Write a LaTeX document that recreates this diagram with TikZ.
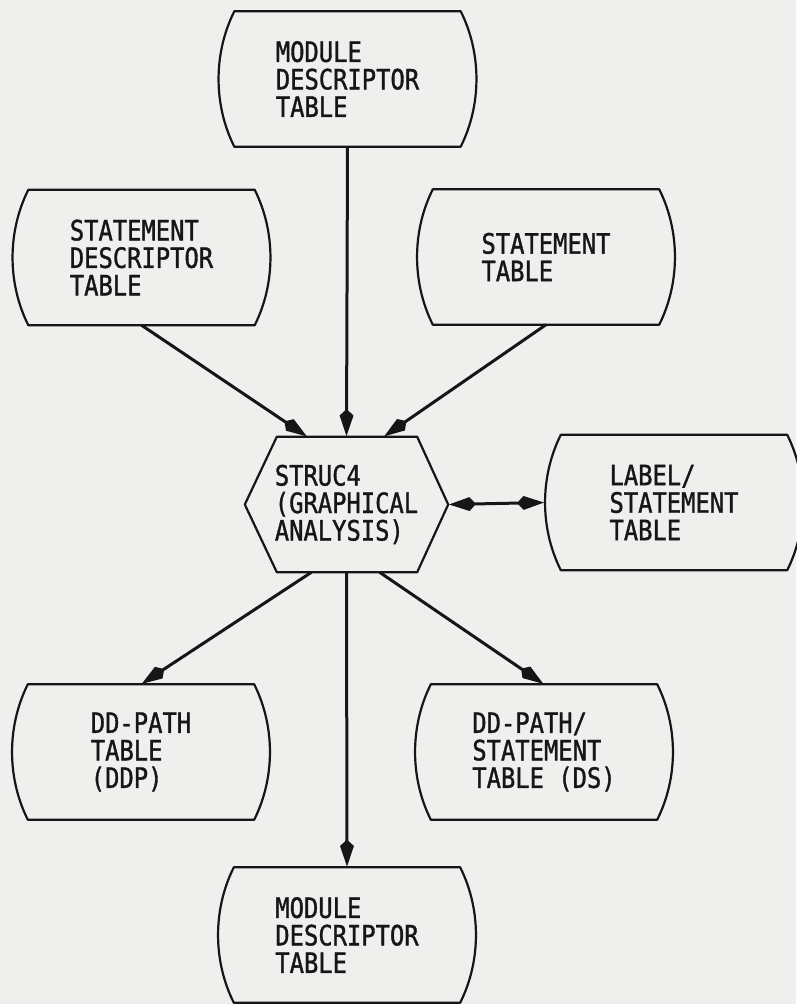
\documentclass[tikz,border=0pt]{standalone}
\usepackage{fontspec}
\usepackage{tikz}
\usepackage{xcolor}
\usetikzlibrary{arrows.meta}
\newfontfamily\letterfont[FakeStretch=0.85,FakeBold=1.2]{DejaVu Sans Mono}
\definecolor{paper}{RGB}{239,239,237}
\definecolor{ink}{RGB}{22,22,22}
\tikzset{
    table-box/.style = {rectangle, minimum width=258pt, minimum height=135pt, inner sep=0pt, align=left,
                        font=\letterfont\fontsize{28pt}{27.5pt}\selectfont, text=ink},
    process-box/.style = {table-box, minimum width=203pt},
    outline/.style = {draw=ink, line width=2.2pt, line join=round},
    flow/.style = {draw=ink, line width=3pt, -{Stealth[length=21pt, width=12pt, inset=-7pt]}},
    two-way/.style = {flow, {Stealth[length=21pt, width=12pt, inset=-7pt]}-{Stealth[length=21pt, width=12pt, inset=-7pt]}},
}
% storage outline: flat top and bottom, bulging sides
\newcommand{\tableoutline}[1]{%
  \draw[outline] ([xshift=16pt]#1.north west) -- ([xshift=-16pt]#1.north east)
    .. controls ([xshift=5pt,yshift=-42pt]#1.north east) and ([xshift=5pt,yshift=42pt]#1.south east) .. ([xshift=-16pt]#1.south east)
    -- ([xshift=16pt]#1.south west)
    .. controls ([xshift=-5pt,yshift=42pt]#1.south west) and ([xshift=-5pt,yshift=-42pt]#1.north west) .. cycle;}
% process outline: hexagon
\newcommand{\hexoutline}[1]{%
  \draw[outline] (#1.west) -- ([xshift=32pt]#1.north west) -- ([xshift=-31pt]#1.north east) -- (#1.east)
    -- ([xshift=-31pt]#1.south east) -- ([xshift=32pt]#1.south west) -- cycle;}

\begin{document}
\begin{tikzpicture}[x=1pt, y=-1pt]
\fill[paper] (0,0) rectangle (796,1004);
\useasboundingbox (0,0) rectangle (796,1004);

\node[table-box] (module-in) at (347.5,79) {MODULE\\DESCRIPTOR\\TABLE};
\node[table-box] (stmt-desc) at (141.5,257.5) {STATEMENT\\DESCRIPTOR\\TABLE};
\node[table-box] (stmt) at (546,257) {STATEMENT\\TABLE};
\node[process-box] (struc) at (346.5,504.5) {STRUC4\\(GRAPHICAL\\ANALYSIS)};
\node[table-box] (label-stmt) at (674,502.5) {LABEL/\\STATEMENT\\TABLE};
\node[table-box] (ddp) at (141,752) {DD-PATH\\TABLE\\(DDP)};
\node[table-box] (ds) at (544,752) {DD-PATH/\\STATEMENT\\TABLE (DS)};
\node[table-box] (module-out) at (347,935) {MODULE\\DESCRIPTOR\\TABLE};

\tableoutline{module-in}
\tableoutline{stmt-desc}
\tableoutline{stmt}
\hexoutline{struc}
\tableoutline{label-stmt}
\tableoutline{ddp}
\tableoutline{ds}
\tableoutline{module-out}

\draw[flow] (module-in.south) -- (struc.north);
\draw[flow] (stmt-desc.south) -- ([xshift=-39pt]struc.north);
\draw[flow] (stmt.south) -- ([xshift=37pt]struc.north);
\draw[two-way] (struc.east) -- (label-stmt.west);
\draw[flow] ([xshift=-35pt]struc.south) -- (ddp.north);
\draw[flow] ([xshift=33pt]struc.south) -- (ds.north);
\draw[flow] (struc.south) -- (module-out.north);
\end{tikzpicture}
\end{document}
